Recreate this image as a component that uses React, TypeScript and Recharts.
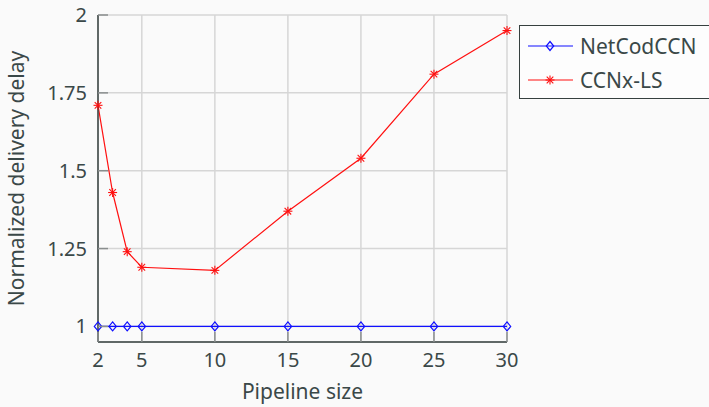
import React from 'react';
import { LineChart, Line, XAxis, YAxis, CartesianGrid, Legend, Label } from 'recharts';

const pipelineSizes = [2, 3, 4, 5, 10, 15, 20, 25, 30];
const netCodCCN = [1, 1, 1, 1, 1, 1, 1, 1, 1];
const ccnxLS = [1.71, 1.43, 1.24, 1.19, 1.18, 1.37, 1.54, 1.81, 1.95];
const xTicks = [2, 5, 10, 15, 20, 25, 30];
const yTicks = [1, 1.25, 1.5, 1.75, 2];
const seriesNames = ['NetCodCCN', 'CCNx-LS'];

const data = pipelineSizes.map((x, i) => ({ x, net: netCodCCN[i], ccnx: ccnxLS[i] }));

const FONT = '"Noto Sans", "Open Sans", sans-serif';
const TEXT = '#3a4848';
const AXIS = '#36403f';
const TICKC = '#8a8e8e';
const BLUE = '#1010ff';
const RED = '#ff1010';

const Diamond = (props: any) => {
  const { cx, cy } = props;
  if (cx == null || cy == null) return null;
  return (
    <path
      d={`M${cx},${cy - 4.5} L${cx + 3.7},${cy} L${cx},${cy + 4.5} L${cx - 3.7},${cy} Z`}
      fill="none"
      stroke={BLUE}
      strokeWidth={1.2}
    />
  );
};

const Star = (props: any) => {
  const { cx, cy } = props;
  if (cx == null || cy == null) return null;
  const r = 4.5;
  const d = 3.3;
  return (
    <g stroke={RED} strokeWidth={1.1}>
      <line x1={cx - r} y1={cy} x2={cx + r} y2={cy} />
      <line x1={cx} y1={cy - r} x2={cx} y2={cy + r} />
      <line x1={cx - d} y1={cy - d} x2={cx + d} y2={cy + d} />
      <line x1={cx - d} y1={cy + d} x2={cx + d} y2={cy - d} />
    </g>
  );
};

const BottomTick = (props: any) => {
  const { x, y, payload } = props;
  return (
    <g>
      <line x1={x} y1={y} x2={x} y2={y - 10} stroke={TICKC} strokeWidth={1.5} />
      <text x={x} y={y + 25} textAnchor="middle" fill={TEXT} fontSize={20} fontFamily={FONT}>
        {payload.value}
      </text>
    </g>
  );
};

const TopTick = (props: any) => {
  const { x, y } = props;
  return <line x1={x} y1={y} x2={x} y2={y + 10} stroke={TICKC} strokeWidth={1.5} />;
};

const LeftTick = (props: any) => {
  const { x, y, payload } = props;
  return (
    <g>
      <line x1={x} y1={y} x2={x + 10} y2={y} stroke={TICKC} strokeWidth={1.5} />
      <text x={x - 11} y={y + 7} textAnchor="end" fill={TEXT} fontSize={20} fontFamily={FONT}>
        {String(payload.value)}
      </text>
    </g>
  );
};

const RightTick = (props: any) => {
  const { x, y } = props;
  return <line x1={x} y1={y} x2={x - 10} y2={y} stroke={TICKC} strokeWidth={1.5} />;
};

const LegendContent = () => {
  const rows = [
    { name: seriesNames[0], color: BLUE, marker: 'diamond' },
    { name: seriesNames[1], color: RED, marker: 'star' },
  ];
  return (
    <div
      style={{
        border: `1.5px solid ${AXIS}`,
        background: '#fdfdfd',
        width: 200,
        height: 74,
        boxSizing: 'border-box',
        paddingTop: 3,
      }}
    >
      {rows.map((r) => (
        <div key={r.name} style={{ display: 'flex', alignItems: 'center', height: 34 }}>
          <svg width={60} height={20} style={{ display: 'block' }}>
            <line x1={8} y1={10} x2={53} y2={10} stroke={r.color} strokeWidth={1.2} />
            {r.marker === 'diamond' ? <Diamond cx={30} cy={10} /> : <Star cx={30} cy={10} />}
          </svg>
          <span style={{ fontFamily: FONT, fontSize: 21, color: TEXT, lineHeight: '20px' }}>{r.name}</span>
        </div>
      ))}
    </div>
  );
};

export default function App() {
  return (
    <div
      style={{
        position: 'fixed',
        left: 0,
        top: 0,
        width: 709,
        height: 407,
        background: '#fafafa',
        overflow: 'hidden',
      }}
    >
      <LineChart width={709} height={407} data={data} margin={{ top: 15, right: 202, bottom: 0, left: 0 }}>
        <CartesianGrid stroke="#d6d6d6" strokeWidth={1.5} />
        <XAxis
          dataKey="x"
          type="number"
          domain={[2, 30]}
          ticks={xTicks}
          height={65}
          tickSize={0}
          tickMargin={0}
          tickLine={false}
          stroke={AXIS}
          axisLine={{ stroke: AXIS, strokeWidth: 1.5 }}
          tick={<BottomTick />}
          interval={0}
        >
          <Label
            content={(p: any) => {
              const vb = p.viewBox;
              return (
                <text
                  x={vb.x + vb.width / 2}
                  y={vb.y + 57}
                  textAnchor="middle"
                  fill={TEXT}
                  fontSize={21}
                  fontFamily={FONT}
                >
                  Pipeline size
                </text>
              );
            }}
          />
        </XAxis>
        <XAxis
          xAxisId="top"
          dataKey="x"
          type="number"
          domain={[2, 30]}
          ticks={xTicks}
          orientation="top"
          height={0}
          tickSize={0}
          tickMargin={0}
          tickLine={false}
          axisLine={{ stroke: AXIS, strokeWidth: 1.5 }}
          tick={<TopTick />}
          interval={0}
        />
        <YAxis
          type="number"
          domain={[0.95, 2]}
          ticks={yTicks}
          width={98}
          tickSize={0}
          tickMargin={0}
          tickLine={false}
          axisLine={{ stroke: AXIS, strokeWidth: 1.5 }}
          tick={<LeftTick />}
          interval={0}
        >
          <Label
            content={(p: any) => {
              const vb = p.viewBox;
              const cx = 24;
              const cy = vb.y + vb.height / 2;
              return (
                <text
                  x={cx}
                  y={cy}
                  transform={`rotate(-90, ${cx}, ${cy})`}
                  textAnchor="middle"
                  fill={TEXT}
                  fontSize={21}
                  fontFamily={FONT}
                >
                  Normalized delivery delay
                </text>
              );
            }}
          />
        </YAxis>
        <YAxis
          yAxisId="right"
          orientation="right"
          type="number"
          domain={[0.95, 2]}
          ticks={yTicks}
          width={0}
          tickSize={0}
          tickMargin={0}
          tickLine={false}
          axisLine={{ stroke: AXIS, strokeWidth: 1.5 }}
          tick={<RightTick />}
          interval={0}
        />
        <Line
          dataKey="net"
          name={seriesNames[0]}
          stroke={BLUE}
          strokeWidth={1.2}
          dot={<Diamond />}
          isAnimationActive={false}
        />
        <Line
          dataKey="ccnx"
          name={seriesNames[1]}
          stroke={RED}
          strokeWidth={1.2}
          dot={<Star />}
          isAnimationActive={false}
        />
        <Legend
          layout="horizontal"
          verticalAlign="middle"
          align="center"
          content={<LegendContent />}
          wrapperStyle={{ position: 'absolute', left: 519, top: 25, width: 200, right: 'auto', bottom: 'auto' }}
        />
      </LineChart>
    </div>
  );
}
